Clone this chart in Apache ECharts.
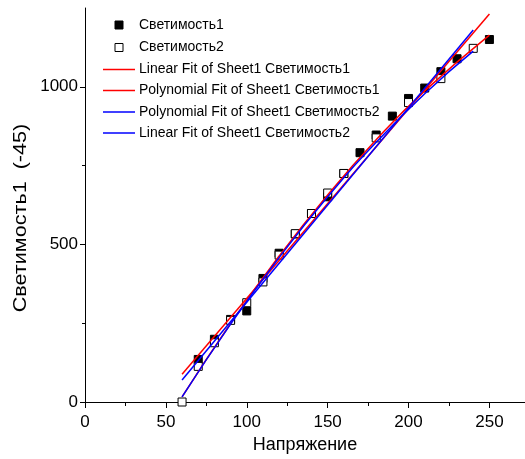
<!DOCTYPE html>
<html>
<head>
<meta charset="utf-8">
<script src="https://cdn.jsdelivr.net/npm/echarts@6/dist/echarts.min.js"></script>
<style>html,body{margin:0;padding:0;background:#fff}#c{width:525px;height:459px}</style>
</head>
<body>
<div id="c"></div>
<script>
// ---- data ----
const x1 = [70, 80, 90, 100, 110, 120, 130, 140, 150, 160, 170, 180, 190, 200, 210, 220, 230, 250];
const y1 = [135, 199, 262, 289, 392, 472, 533, 598, 651, 725, 791, 847, 907, 963, 996, 1048, 1089, 1150];
const x2 = [60, 70, 80, 90, 100, 110, 120, 130, 140, 150, 160, 180, 200, 220, 240];
const y2 = [0, 113, 188, 259, 315, 381, 466, 534, 598, 663, 725, 838, 950, 1026, 1122];
const linFit1X = [60, 250];
const linFit1Y = [88, 1231];
const polyFit1X = [60, 90, 120, 150, 180, 210, 250];
const polyFit1Y = [16, 249, 463, 657, 832, 987, 1164];
const polyFit2X = [60, 90, 120, 150, 180, 210, 240];
const polyFit2Y = [16, 247, 458, 651, 824, 978, 1113];
const linFit2X = [60, 240];
const linFit2Y = [70, 1180];
const xTicks = [0, 50, 100, 150, 200, 250];
const xMinorTicks = [25, 75, 125, 175, 225];
const yTicks = [0, 500, 1000];
const yMinorTicks = [250, 750];
const names = ['Светимость1', 'Светимость2', 'Linear Fit of Sheet1 Светимость1',
  'Polynomial Fit of Sheet1 Светимость1', 'Polynomial Fit of Sheet1 Светимость2',
  'Linear Fit of Sheet1 Светимость2'];
const xTitle = 'Напряжение';
const yTitle = 'Светимость1  (-45)';

const FF = "'Liberation Sans', Arial, sans-serif";
const tickFS = 17;
const nameFS = 18;
const legFS = 14;

const zip = (xs, ys) => xs.map((x, i) => [x, ys[i]]);
const XMIN = 0, XMAX = 272, YMIN = 0, YMAX = 1250;
const RED = '#ff0000', BLUE = '#0000ff';
const seriesColors = ['#000', '#000', RED, RED, BLUE, BLUE];

// legend built as graphics (icon row layout)
const legRowsY = [25, 47.5, 69.5, 90.5, 112, 133];
const graphics = [];
names.forEach((n, i) => {
  const y = legRowsY[i];
  if (i < 2) {
    graphics.push({type: 'rect', shape: {x: 115, y: y - 4, width: 8, height: 8},
      style: {fill: i === 0 ? '#000' : '#fff', stroke: '#000', lineWidth: 1}, silent: true});
  } else {
    graphics.push({type: 'line', shape: {x1: 103, y1: y, x2: 135, y2: y},
      style: {stroke: seriesColors[i], lineWidth: 1.5}, silent: true});
  }
  graphics.push({type: 'text', x: 139, y: y,
    style: {text: n, fill: '#000', font: legFS + 'px ' + FF, verticalAlign: 'middle'}, silent: true});
});
// y axis title (tall, narrow lettering as in the reference)
graphics.push({type: 'text', x: 21, y: 218, rotation: Math.PI / 2, scaleX: 1.2,
  style: {text: yTitle, fill: '#000', font: nameFS + 'px ' + FF, align: 'center', verticalAlign: 'middle'}, silent: true});

const chart = echarts.init(document.getElementById('c'), null, {renderer: 'canvas'});
const plain = v => String(v);
chart.setOption({
  animation: false,
  textStyle: {fontFamily: FF},
  grid: {left: 85, right: 0, top: 8, bottom: 57, containLabel: false},
  graphic: graphics,
  xAxis: [
    {
      type: 'value', min: XMIN, max: XMAX, position: 'bottom', splitLine: {show: false},
      axisLine: {show: true, onZero: false, lineStyle: {color: '#000', width: 1}},
      name: xTitle, nameLocation: 'middle', nameGap: 28,
      nameTextStyle: {fontFamily: FF, fontSize: nameFS, color: '#000'},
      axisTick: {show: true, inside: false, length: 6, customValues: xTicks, lineStyle: {color: '#000'}},
      axisLabel: {show: true, margin: 12, customValues: xTicks, formatter: plain, fontFamily: FF, fontSize: tickFS, color: '#000'}
    },
    {
      type: 'value', min: XMIN, max: XMAX, position: 'bottom', splitLine: {show: false},
      axisLine: {show: false},
      axisTick: {show: true, inside: false, length: 4, customValues: xMinorTicks, lineStyle: {color: '#000'}},
      axisLabel: {show: false}
    }
  ],
  yAxis: [
    {
      type: 'value', min: YMIN, max: YMAX, position: 'left', splitLine: {show: false},
      axisLine: {show: true, onZero: false, lineStyle: {color: '#000', width: 1}},
      axisTick: {show: true, inside: false, length: 5, customValues: yTicks, lineStyle: {color: '#000'}},
      axisLabel: {show: true, margin: 7, customValues: yTicks, formatter: plain, fontFamily: FF, fontSize: tickFS, color: '#000'}
    },
    {
      type: 'value', min: YMIN, max: YMAX, position: 'left', splitLine: {show: false},
      axisLine: {show: false},
      axisTick: {show: true, inside: false, length: 3, customValues: yMinorTicks, lineStyle: {color: '#000'}},
      axisLabel: {show: false}
    }
  ],
  series: [
    {name: names[0], type: 'scatter', symbol: 'rect', symbolSize: 8, data: zip(x1, y1),
      itemStyle: {color: '#000', borderColor: '#000', borderWidth: 1, opacity: 1}, clip: false, z: 2},
    {name: names[1], type: 'scatter', symbol: 'rect', symbolSize: 8, data: zip(x2, y2),
      itemStyle: {color: '#fff', borderColor: '#000', borderWidth: 1, opacity: 1}, clip: false, z: 3},
    {name: names[2], type: 'line', symbol: 'none', data: zip(linFit1X, linFit1Y),
      lineStyle: {color: RED, width: 1.5}, z: 4},
    {name: names[3], type: 'line', symbol: 'none', smooth: true, data: zip(polyFit1X, polyFit1Y),
      lineStyle: {color: RED, width: 1.5}, z: 4},
    {name: names[4], type: 'line', symbol: 'none', smooth: true, data: zip(polyFit2X, polyFit2Y),
      lineStyle: {color: BLUE, width: 1.5}, z: 4},
    {name: names[5], type: 'line', symbol: 'none', data: zip(linFit2X, linFit2Y),
      lineStyle: {color: BLUE, width: 1.5}, z: 4}
  ]
});
</script>
</body>
</html>
